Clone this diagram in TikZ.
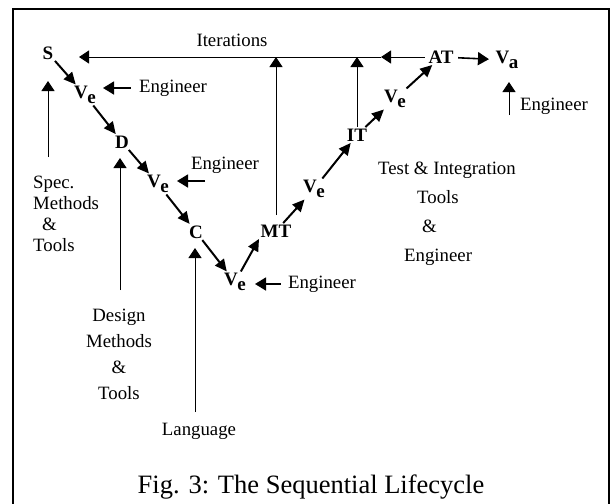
\documentclass[tikz,border=0pt]{standalone}
\usepackage{fontspec}
\setmainfont{Liberation Serif}
\usetikzlibrary{arrows.meta}
\newcommand{\Vsub}[1]{V\kern-0.5pt\raisebox{-5pt}{#1}}
\tikzset{
  flow/.style={line width=2pt, -{Triangle[length=12pt,width=11pt]}},
  thinarr/.style={line width=0.8pt, -{Triangle[length=10pt,width=13pt]}},
  engarr/.style={line width=1.6pt, -{Triangle[length=11pt,width=13pt]}},
  lbl/.style={font=\fontsize{18.8}{22}\selectfont, inner sep=0pt},
  bn/.style={font=\fontsize{19}{22}\selectfont\bfseries, inner sep=1.5pt},
}
\begin{document}
\begin{tikzpicture}[x=1pt,y=-1pt]
\useasboundingbox (0,0) rectangle (614,504);
% frame (open at the bottom)
\draw[line width=2.5pt] (13,504) -- (13,9) -- (609,9) -- (609,504);

% main V nodes
\node[bn] (S)   at (48,53)  {S};
\node[bn] (Ve1) at (85,95)  {\Vsub{e}};
\node[bn] (D)   at (122,142) {D};
\node[bn] (Ve2) at (158,184) {\Vsub{e}};
\node[bn] (C)   at (196,232) {C};
\node[bn] (Ve3) at (235,282) {\Vsub{e}};
\node[bn] (MT)  at (276,231) {MT};
\node[bn] (Ve4) at (314,189) {\Vsub{e}};
\node[bn] (IT)  at (357,135) {IT};
\node[bn] (Ve5) at (395,99) {\Vsub{e}};
\node[bn] (AT)  at (441,57)  {AT};
\node[bn] (Va)  at (507,60)  {\Vsub{a}};

\draw[flow] (S) -- (Ve1);
\draw[flow] (Ve1) -- (D);
\draw[flow] (D) -- (Ve2);
\draw[flow] (Ve2) -- (C);
\draw[flow] (C) -- (Ve3);
\draw[flow] (Ve3) -- (MT.south west);
\draw[flow] (MT) -- (Ve4);
\draw[flow] (Ve4) -- (IT);
\draw[flow] (IT) -- (Ve5);
\draw[flow] (Ve5) -- (AT);
\draw[engarr, shorten <=3pt, shorten >=5pt] (AT) -- (Va);

% iterations
\node[lbl] (iter) at (232,40) {Iterations};
\coordinate (itmid) at (381,57);
\coordinate (itL) at (79,57);
\draw[thinarr, shorten <=2pt] (AT) -- (itmid);
\draw[thinarr] (itmid) -- (itL);
\draw[thinarr, shorten <=8pt] (MT) -- (MT |- itL);
\draw[thinarr] (IT) -- (IT |- itL);

% engineers
\node[lbl] (eng1) at (173,88) {Engineer};
\coordinate (e1tip) at (103,88);
\draw[engarr, shorten <=8pt] (eng1.west) -- (e1tip);

\node[lbl] (eng2) at (225,165) {Engineer};
\coordinate (e2s) at (205,181);
\coordinate (e2tip) at (177,181);
\draw[engarr] (e2s) -- (e2tip);

\node[lbl] (eng3) at (322,284) {Engineer};
\coordinate (e3tip) at (255,284);
\draw[engarr, shorten <=7pt] (eng3.west) -- (e3tip);

\node[lbl] (eng4) at (554,106) {Engineer};
\coordinate (e4s) at (509,115);
\coordinate (e4tip) at (509,82);
\draw[thinarr] (e4s) -- (e4tip);

% spec methods
\node[lbl, align=left, anchor=north west, font=\fontsize{18.8}{21}\selectfont] (spec) at (33,176)
  {Spec.\\ Methods\\ \hspace{9pt}\&\\ Tools};
\coordinate (spectip) at (48,81);
\draw[thinarr] (48,157) -- (spectip);

% design methods
\node[lbl, align=center, anchor=north, font=\fontsize{18.8}{26}\selectfont] (design) at (119,309)
  {Design\\ Methods\\ \&\\ Tools};
\coordinate (dtop) at (120,158);
\coordinate (dbot) at (120,290);
\draw[thinarr] (dbot) -- (dtop);

% language
\node[lbl] (lang) at (199,431) {Language};
\coordinate (ltop) at (195,248);
\coordinate (lbot) at (195,412);
\draw[thinarr] (lbot) -- (ltop);

% test & integration
\node[lbl, align=left, anchor=north west, font=\fontsize{18.8}{29}\selectfont] (tai) at (378,162)
  {Test \& Integration\\ \hspace{39pt}Tools\\ \hspace{44pt}\&\\ \hspace{26pt}Engineer};

% caption
\node[font=\fontsize{26.5}{30}\selectfont, inner sep=0pt] (cap) at (311,487) {Fig. 3: The Sequential Lifecycle};
\end{tikzpicture}
\end{document}
